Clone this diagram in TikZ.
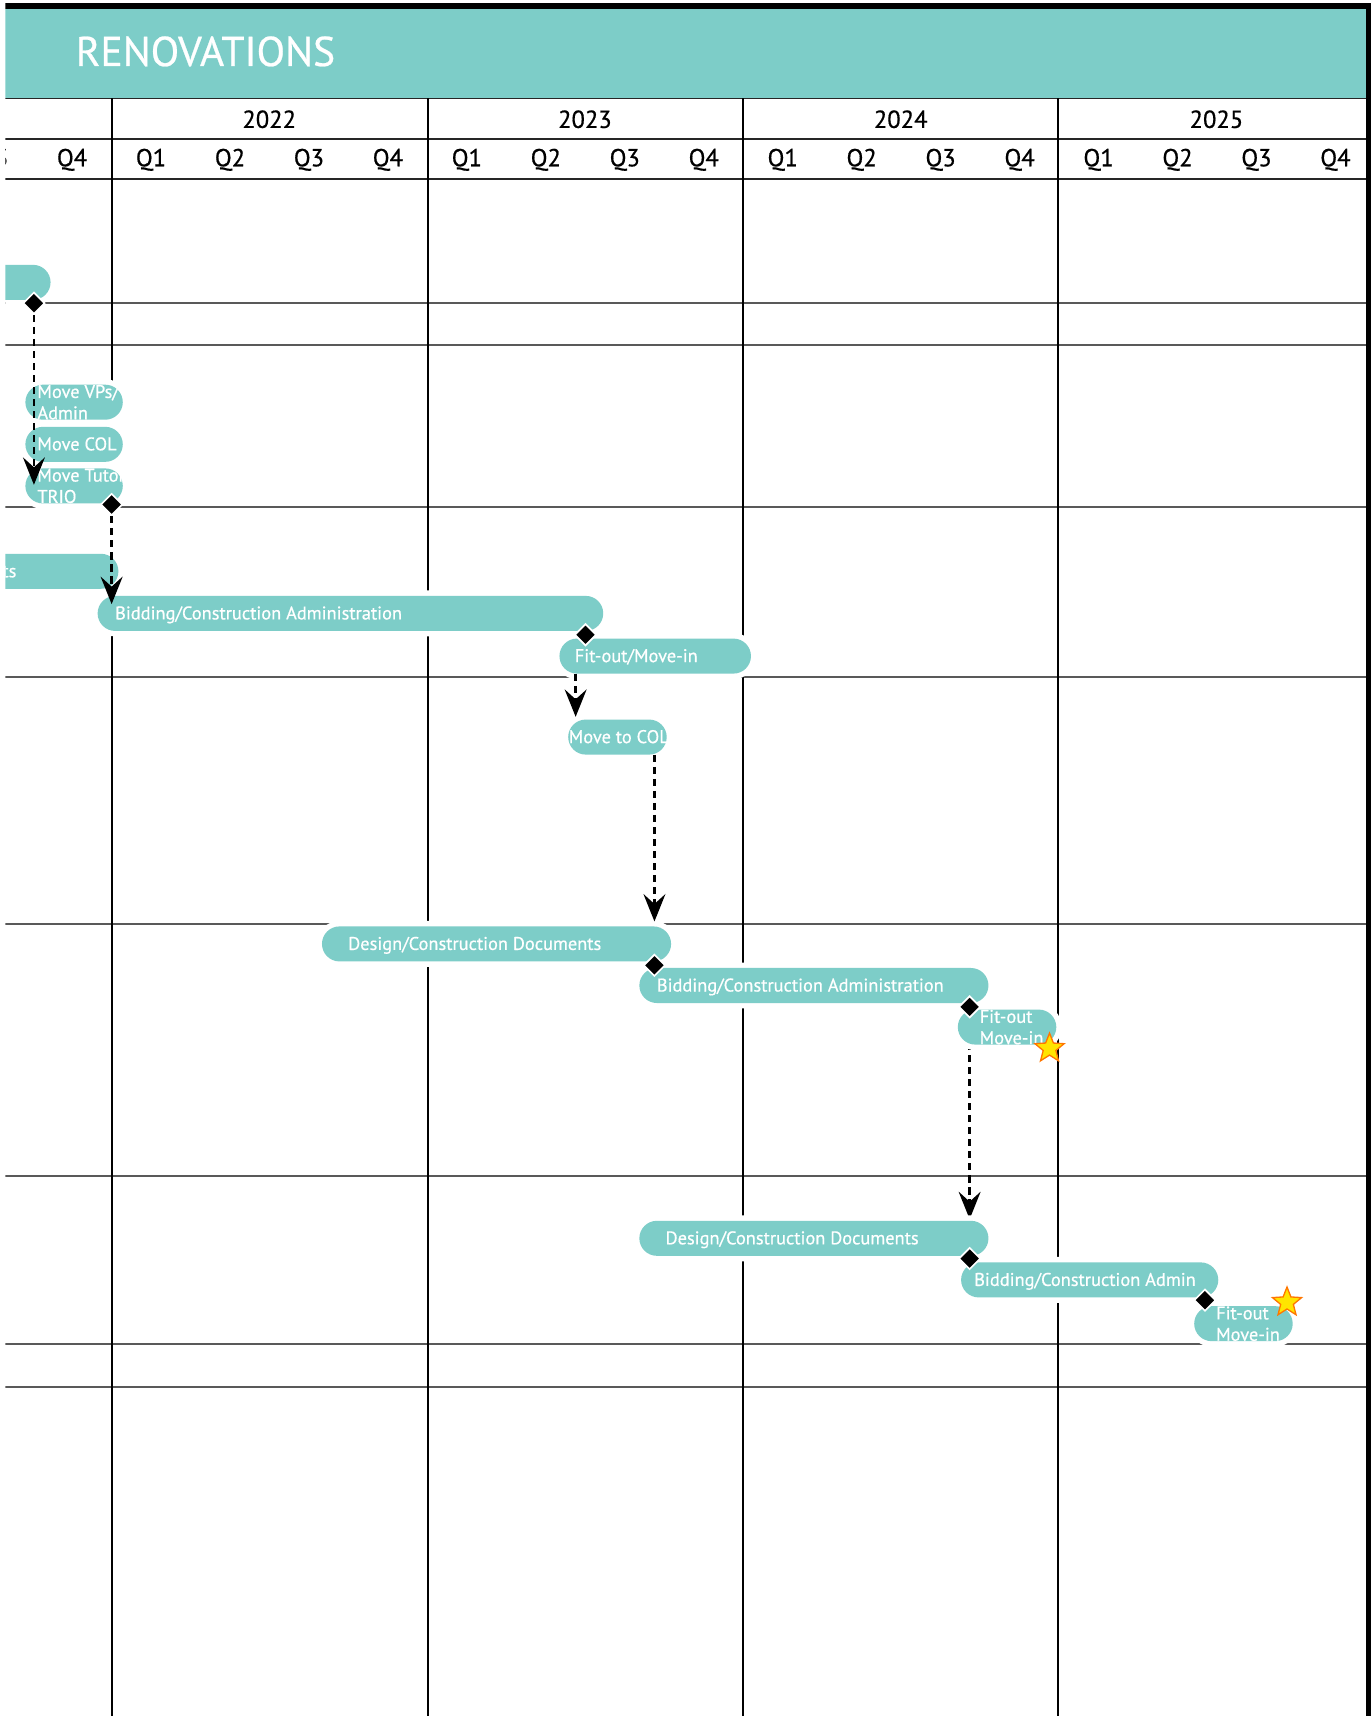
\documentclass[tikz,border=0pt]{standalone}
\usepackage{fontspec}
\setmainfont{PT Sans}[FakeBold=0.6]
\usetikzlibrary{arrows.meta, positioning, shapes.geometric}
\definecolor{renoteal}{RGB}{125,205,200}
\definecolor{stargold}{RGB}{255,228,0}
\definecolor{starorange}{RGB}{255,118,0}

\begin{document}
\begin{tikzpicture}[x=1pt, y=-1pt,
    heading/.style={text=white, inner sep=0pt, anchor=west, font=\fontsize{38}{44}\selectfont},
    yearlbl/.style={inner sep=0pt, font=\fontsize{22.5}{26}\selectfont},
    bar/.style={rectangle, rounded corners=16pt, fill=renoteal, preaction={draw=white, line width=10pt}, minimum height=32pt, anchor=west, inner sep=0pt},
    bartext/.style={text=white, inner sep=0pt, font=\fontsize{16.8}{19}\selectfont, text height=12pt, text depth=1pt},
    bartwo/.style={text=white, inner sep=0pt, align=left, font=\fontsize{16.8}{19.5}\selectfont},
    milestone/.style={diamond, fill=black, draw=white, line width=1.5pt, inner sep=0pt, minimum size=20pt},
    flow/.style={line width=2.5pt, dash pattern=on 6.5pt off 4.5pt, -{Stealth[length=25pt, width=20pt, inset=9pt]}},
    finish/.style={star, star points=5, star point ratio=2.3, fill=stargold, draw=starorange, line width=1.2pt, inner sep=0pt, minimum size=28pt},
    headline/.style={black!85, line width=1.8pt},
    gridline/.style={black!65, line width=1.8pt},
    yearline/.style={black, line width=1.8pt}]
  \useasboundingbox (0,0) rectangle (1253,1568);
  \clip (5,0) rectangle (1253,1568);

  % header
  \fill[black] (5,3) rectangle (1253,8.5);
  \fill[renoteal] (5,8.5) rectangle (1248.5,90);
  \node[heading] (title) at (69,47) {RENOVATIONS};

  % grid
  \foreach \y in {90,127,164}
    \draw[headline] (5,\y) -- (1248.5,\y);
  \foreach \y in {277,315,463,619,844,1075,1228,1267}
    \draw[gridline] (5,\y) -- (1248.5,\y);
  \draw[yearline] (102,90) -- (102,463) (102,545) -- (102,1568);
  \foreach \x in {391,679,967}
    \draw[yearline] (\x,90) -- (\x,1568);
  \fill[black] (1248.5,3) rectangle (1253,1568);

  \foreach \yr [count=\k from 0] in {2022,2023,2024,2025}
    \node[yearlbl] (y\yr) at (246+288.5*\k,109) {\yr};
  \foreach \i in {-2,...,15} {
    \pgfmathtruncatemacro{\qn}{mod(\i+8,4)+1}
    \node[yearlbl] (q\i) at (138+72.15*\i,146) {Q\qn};
  }

  % first rows
  \node[bar, minimum width=76pt] (barA) at (-30,258) {};
  \node[bar, minimum width=89pt] (vps) at (23,367.5) {};
  \node[bartwo, right=11pt of vps.west] (vpstxt) {Move VPs/\\Admin};
  \node[bar, minimum width=89pt] (col1) at (23,406) {};
  \node[bartext, right=11pt of col1.west] (col1txt) {Move COL};
  \node[bar, minimum width=89pt] (trio) at (23,444) {};
  \node[bartwo, right=11pt of trio.west] (triotxt) {Move Tutor\\TRIO};

  \node[bar, minimum width=352pt] (des1) at (-244,522) {};
  \node[bartext, anchor=west] (des1txt) at (2,522) {ts};
  \node[bar, minimum width=462pt] (bid1) at (89,560.5) {};
  \node[bartext, right=16pt of bid1.west] (bid1txt) {Bidding/Construction Administration};
  \node[bar, minimum width=175pt] (fit1) at (511,599.5) {};
  \node[bartext, right=14pt of fit1.west] (fit1txt) {Fit-out/Move-in};
  \node[bar, minimum width=90pt] (col2) at (519,673.5) {};
  \node[bartext, right=0.5pt of col2.west] (col2txt) {Move to COL};

  \node[bar, minimum width=319pt] (des2) at (294,862.5) {};
  \node[bartext, right=24pt of des2.west] (des2txt) {Design/Construction Documents};
  \node[bar, minimum width=319pt] (bid2) at (584,900.5) {};
  \node[bartext, right=16pt of bid2.west] (bid2txt) {Bidding/Construction Administration};
  \coordinate (srcE) at (886,920);
  \coordinate (tipE) at (886,1114);
  \draw[flow] (srcE) -- (tipE);
  \node[bar, minimum width=90pt] (fit2) at (875,938.5) {};
  \node[bartwo, right=20pt of fit2.west] (fit2txt) {Fit-out\\Move-in};

  \node[bar, minimum width=319pt] (des3) at (584,1131.5) {};
  \node[bartext, right=24pt of des3.west] (des3txt) {Design/Construction Documents};
  \node[bar, minimum width=235pt] (bid3) at (878,1169.5) {};
  \node[bartext, right=12pt of bid3.west] (bid3txt) {Bidding/Construction Admin};
  \node[bar, minimum width=90pt] (fit3) at (1091,1209.5) {};
  \node[bartwo, right=20pt of fit3.west] (fit3txt) {Fit-out\\Move-in};

  % milestones
  \node[milestone] (msA) at (31,277) {};
  \node[milestone] (msB) at (102,461) {};
  \node[milestone] (msC) at (535,580) {};
  \node[milestone] (msD) at (598,882) {};
  \node[milestone] (msE) at (srcE) {};
  \node[milestone] (msF) at (886,1150) {};
  \node[milestone] (msG) at (1101,1188) {};

  % dependencies
  \coordinate (tipA) at (31,443);
  \coordinate (tipB) at (102,552);
  \coordinate (tipC) at (526,655);
  \coordinate (tipD) at (598,842);
  \draw[flow] (msA) -- (tipA);
  \draw[flow] (msB) -- (tipB);
  \draw[flow] (fit1.south -| tipC) -- (tipC);
  \draw[flow] (col2.south -| tipD) -- (tipD);

  \node[finish] (star1) at (959,958) {};
  \node[finish] (star2) at (1176,1190) {};
\end{tikzpicture}
\end{document}
